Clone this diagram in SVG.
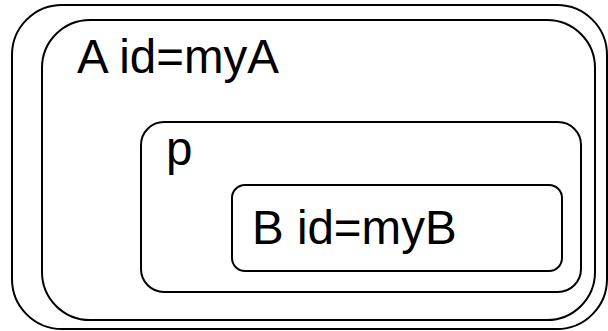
<svg xmlns="http://www.w3.org/2000/svg" width="608" height="331" viewBox="0 0 608 331">
  <style>
    .box { fill: none; stroke: #000; stroke-width: 2; }
    .label { font-family: "Liberation Sans", Arial, sans-serif; font-size: 47.5px; fill: #000; }
  </style>
  <rect width="608" height="331" fill="#fff"/>
  <!-- outer frame -->
  <g id="frame">
    <rect class="box" x="12" y="5" width="595" height="324" rx="50" ry="50"/>
  </g>
  <!-- element A -->
  <g id="myA">
    <rect class="box" x="42" y="20" width="553" height="300" rx="48" ry="48"/>
    <text class="label" x="77" y="73">A id=myA</text>
  </g>
  <!-- element p -->
  <g id="p">
    <rect class="box" x="141" y="122" width="440" height="170" rx="23" ry="23"/>
    <text class="label" x="166" y="165">p</text>
  </g>
  <!-- element B -->
  <g id="myB">
    <rect class="box" x="232" y="185" width="330" height="86" rx="13" ry="13"/>
    <text class="label" x="252" y="244">B id=myB</text>
  </g>
  <g id="connectors"/>
</svg>
